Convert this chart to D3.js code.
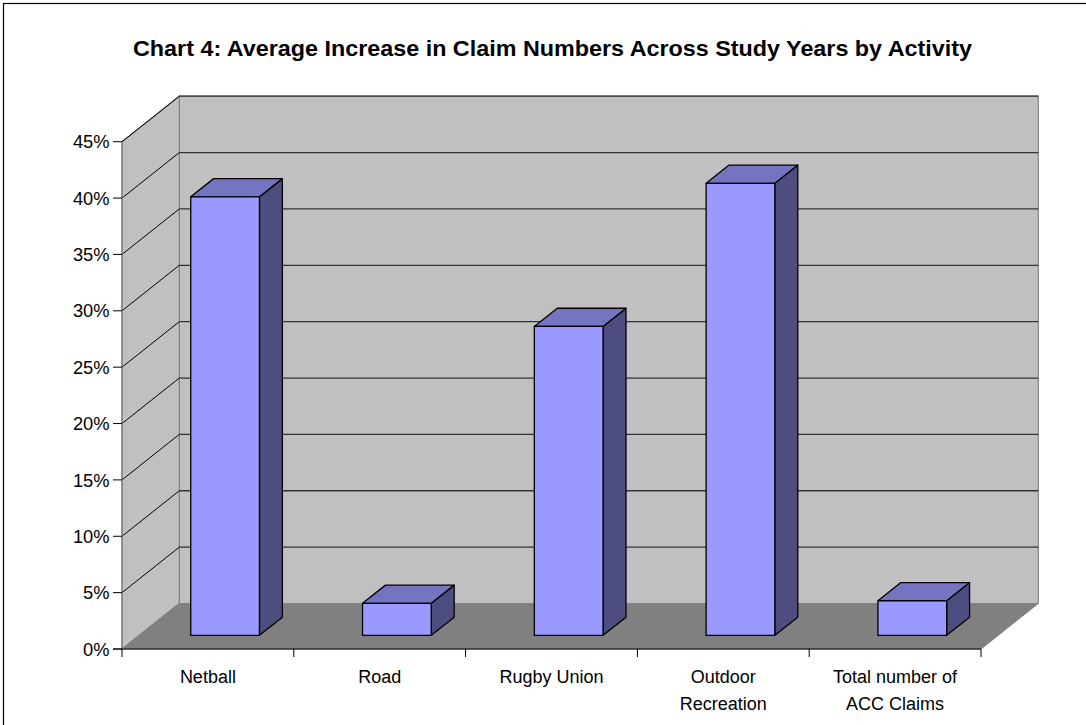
<!DOCTYPE html>
<html>
<head>
<meta charset="utf-8">
<script src="https://cdn.jsdelivr.net/npm/d3@7"></script>
<style>
  html, body { margin: 0; padding: 0; background: #fff; }
  svg { display: block; }
  text { font-family: "Liberation Sans", Arial, sans-serif; fill: #000; }
</style>
</head>
<body>
<svg id="chart" width="1086" height="725"></svg>
<script>
// Average increase in claim numbers per activity
const categories = ["Netball", "Road", "Rugby Union", "Outdoor\nRecreation", "Total number of\nACC Claims"];
const increases = [0.389, 0.0284, 0.274, 0.401, 0.0307];
const tickValues = [0, 0.05, 0.10, 0.15, 0.20, 0.25, 0.30, 0.35, 0.40, 0.45];
const chartTitle = "Chart 4: Average Increase in Claim Numbers Across Study Years by Activity";

const svg = d3.select("#chart");

// Front plane of the plot and the oblique depth vector
const plotLeft = 122, plotRight = 981, plotBase = 649, plotTop = 141.7;
const DX = 57.3, DY = -45.5;
const y = d3.scaleLinear().domain([0, 0.45]).range([plotBase, plotTop]);
const x = d3.scaleBand().domain(categories).range([plotLeft, plotRight]).padding(0);
const barW = x.bandwidth() / 2.5;
const depth0 = 0.3, depth1 = 0.7;

const pt = (px, py, d) => [px + DX * d, py + DY * d];
const poly = pts => pts.map(p => p.join(",")).join(" ");

// Outer frame
svg.append("rect").attr("x", 3.5).attr("y", 3.5).attr("width", 1100).attr("height", 740)
  .attr("fill", "#fff").attr("stroke", "#000").attr("stroke-width", 1.2);

// Title
svg.append("text").attr("x", 552.5).attr("y", 55.5).attr("text-anchor", "middle")
  .attr("font-weight", "bold").attr("font-size", 22.5)
  .attr("textLength", 839).attr("lengthAdjust", "spacingAndGlyphs")
  .text(chartTitle);

const g = svg.append("g");

// Back wall
g.append("polygon")
  .attr("points", poly([pt(plotLeft, plotTop, 1), pt(plotRight, plotTop, 1), pt(plotRight, plotBase, 1), pt(plotLeft, plotBase, 1)]))
  .attr("fill", "#c0c0c0").attr("stroke", "#808080").attr("stroke-width", 1.2);
// Side wall
g.append("polygon")
  .attr("points", poly([[plotLeft, plotBase], [plotLeft, plotTop], pt(plotLeft, plotTop, 1), pt(plotLeft, plotBase, 1)]))
  .attr("fill", "#c0c0c0").attr("stroke", "#808080").attr("stroke-width", 1.2);
// Floor
g.append("polygon")
  .attr("points", poly([[plotLeft, plotBase], [plotRight, plotBase], pt(plotRight, plotBase, 1), pt(plotLeft, plotBase, 1)]))
  .attr("fill", "#808080").attr("stroke", "#808080").attr("stroke-width", 1);

// Gridlines on the side and back walls
const grid = tickValues.filter(v => v > 0);
g.selectAll(".grid-side").data(grid).join("line")
  .attr("x1", plotLeft).attr("y1", d => y(d))
  .attr("x2", plotLeft + DX).attr("y2", d => y(d) + DY)
  .attr("stroke", "#000").attr("stroke-width", 1);
g.selectAll(".grid-back").data(grid).join("line")
  .attr("x1", plotLeft + DX).attr("y1", d => y(d) + DY)
  .attr("x2", plotRight + DX).attr("y2", d => y(d) + DY)
  .attr("stroke", "#333").attr("stroke-width", 1.3);

// Bars as boxes: front, top and right side faces
const bars = g.selectAll(".bar").data(categories.map((c, i) => ({ c, v: increases[i] }))).join("g");
bars.each(function (d) {
  const el = d3.select(this);
  const x0 = x(d.c) + (x.bandwidth() - barW) / 2, x1 = x0 + barW;
  const yb = y(0), yt = y(d.v);
  const front = [pt(x0, yt, depth0), pt(x1, yt, depth0), pt(x1, yb, depth0), pt(x0, yb, depth0)];
  const topFace = [pt(x0, yt, depth0), pt(x0, yt, depth1), pt(x1, yt, depth1), pt(x1, yt, depth0)];
  const side = [pt(x1, yt, depth0), pt(x1, yt, depth1), pt(x1, yb, depth1), pt(x1, yb, depth0)];
  const face = (pts, fill) => el.append("polygon").attr("points", poly(pts)).attr("fill", fill)
    .attr("stroke", "#000").attr("stroke-width", 1.3).attr("stroke-linejoin", "round");
  face(side, "#4d4d80");
  face(topFace, "#7474c0");
  face(front, "#9999ff");
});

// Value axis
g.append("line").attr("x1", plotLeft).attr("x2", plotLeft).attr("y1", plotTop).attr("y2", plotBase)
  .attr("stroke", "#808080").attr("stroke-width", 1.2);
g.selectAll(".ytick").data(tickValues).join("line")
  .attr("x1", plotLeft - 9).attr("x2", plotLeft).attr("y1", d => y(d)).attr("y2", d => y(d))
  .attr("stroke", "#000").attr("stroke-width", 1);
g.selectAll(".ylab").data(tickValues).join("text")
  .attr("x", plotLeft - 12.5).attr("y", d => y(d) + 6.6)
  .attr("text-anchor", "end").attr("font-size", 18.3)
  .text(d3.format(".0%"));

// Category axis
g.append("line").attr("x1", plotLeft - 9).attr("x2", plotRight).attr("y1", plotBase).attr("y2", plotBase)
  .attr("stroke", "#000").attr("stroke-width", 1.2);
const bounds = categories.map(c => x(c)).concat([plotRight]);
g.selectAll(".xtick").data(bounds).join("line")
  .attr("x1", d => d).attr("x2", d => d).attr("y1", plotBase).attr("y2", plotBase + 8)
  .attr("stroke", "#000").attr("stroke-width", 1);
const labels = g.selectAll(".xlab").data(categories).join("text")
  .attr("text-anchor", "middle").attr("font-size", 18);
labels.each(function (c) {
  const t = d3.select(this);
  c.split("\n").forEach((line, i) => {
    t.append("tspan").attr("x", x(c) + x.bandwidth() / 2).attr("y", 682.5 + i * 27).text(line);
  });
});
</script>
</body>
</html>
